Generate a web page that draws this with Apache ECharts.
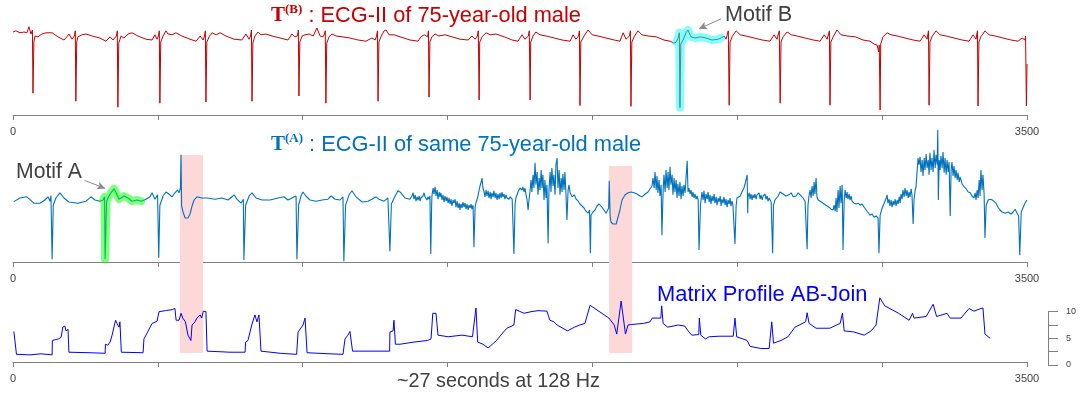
<!DOCTYPE html>
<html>
<head>
<meta charset="utf-8">
<script src="https://cdn.jsdelivr.net/npm/echarts@6/dist/echarts.min.js"></script>
<style>
  html, body { margin: 0; padding: 0; background: #ffffff; }
  #chart { width: 1080px; height: 394px; }
</style>
</head>
<body>
<div id="chart"></div>
<script>
// Sample axis: 3500 samples of ECG lead II (~27 s at 128 Hz)
const sampleCount = 3500;
const xLabelValues = [0, 3500];
const mpLabelValues = [0, 5, 10];

// T(B): ECG-II, [sample, mV]
const ecgB = [
  [0,0.15],[10,0.18],[24,0.13],[38,0.15],[48,0.13],[55,0.28],[62,0.1],[67,0.2],[69,-1.38],[72,-0.1],[76,0.05],[86,0.03],[100,0.1],[114,0.13],[135,0.13],[155,0.03],[176,-0.05],[186,0.03],[193,0.1],[204,-0.03],[212,0.05],[215,0.18],
  [217,-1.58],[220,-0.1],[224,0.03],[238,0.08],[252,0.1],[273,0.05],[300,0],[321,-0.08],[335,0.03],[345,-0.05],[357,0.05],[360,0.18],
  [362,-1.73],[365,-0.13],[373,0.05],[383,0],[397,0.1],[411,0.13],[431,0.05],[459,-0.03],[480,-0.05],[490,0.08],[497,-0.03],[502,0.05],[505,0.18],
  [507,-1.63],[510,-0.1],[518,0.05],[528,0.18],[535,0.1],[549,0.08],[562,0.13],[583,0.05],[611,-0.03],[632,-0.08],[646,0.05],[656,-0.05],[661,0.05],[664,0.18],
  [666,-1.6],[669,-0.1],[677,0.03],[687,0.13],[701,0.08],[715,0.13],[735,0.05],[763,-0.03],[790,-0.05],[804,0.1],[815,-0.03],[820,0.05],[823,0.2],
  [825,-1.58],[828,-0.13],[835,0.05],[846,0.15],[856,0.08],[873,0.1],[894,0.05],[922,0],[949,-0.05],[963,0.1],[973,0.03],[982,0.05],[985,0.2],
  [987,-1.45],[990,-0.1],[998,0.05],[1008,0.08],[1022,0.1],[1036,0.05],[1049,0.25],[1060,0.05],[1070,0.03],[1075,0.1],[1078,0.18],
  [1080,-1.63],[1083,-0.13],[1091,0.03],[1101,0.1],[1115,0.05],[1136,0.03],[1163,0],[1191,-0.05],[1218,-0.08],[1239,0],[1250,-0.05],[1255,0.05],[1258,0.18],
  [1260,-1.58],[1263,-0.1],[1270,0.03],[1281,0.18],[1288,0.2],[1298,0.08],[1315,0.08],[1336,0.03],[1370,-0.05],[1398,-0.08],[1408,0.03],[1419,0.08],[1431,0.03],[1434,0.18],
  [1436,-1.48],[1439,-0.1],[1446,0.03],[1457,0.1],[1470,0.05],[1491,0.08],[1515,0.03],[1543,-0.03],[1571,-0.05],[1584,0.05],[1595,-0.03],[1603,0.05],[1606,0.18],
  [1609,-1.55],[1611,-0.1],[1619,0.03],[1633,0.13],[1647,0.08],[1667,0.1],[1695,0.03],[1723,-0.05],[1743,-0.08],[1757,0.08],[1767,-0.03],[1779,0.05],[1782,0.18],
  [1785,-1.55],[1787,-0.1],[1795,0.05],[1805,0.15],[1819,0.08],[1840,0.05],[1868,0],[1895,-0.05],[1923,-0.08],[1933,0.08],[1943,-0.03],[1952,0.05],[1955,0.18],
  [1957,-1.69],[1960,-0.1],[1971,0.05],[1985,0.2],[1999,0.08],[2019,0.05],[2047,0],[2075,-0.05],[2095,-0.08],[2106,0.13],[2116,-0.03],[2128,0.05],[2131,0.18],
  [2133,-1.71],[2136,-0.1],[2144,0.03],[2157,0.18],[2171,0.08],[2192,0.05],[2220,0.03],[2247,-0.05],[2268,-0.08],[2282,-0.13],
  [2289,-0.1],[2296,0],[2300,0.13],[2302,-1.74],[2305,-0.15],[2313,-0.05],[2323,0.13],[2330,0.2],[2340,0.03],[2354,0],[2372,0.03],[2392,0],[2413,-0.05],[2434,-0.03],[2444,0],
  [2455,0.05],[2461,-0.03],[2469,0.18],
  [2472,-1.68],[2475,-0.1],[2482,0.03],[2496,0.18],[2510,0.08],[2530,0.05],[2558,0],[2586,-0.05],[2613,-0.08],[2627,0.08],[2637,-0.03],[2645,0.18],
  [2648,-1.63],[2651,-0.1],[2658,0.03],[2672,0.15],[2686,0.08],[2706,0.05],[2734,0],[2762,-0.05],[2786,-0.08],[2800,0.08],[2810,-0.03],[2818,0.18],
  [2820,-1.68],[2823,-0.1],[2831,0.03],[2844,0.2],[2858,0.08],[2879,0.05],[2907,0.03],[2934,-0.05],[2958,-0.08],[2972,-0.15],[2983,-0.18],[2988,-0.35],[2990,-0.18],
  [2993,-1.8],[2995,-0.15],[3003,0.03],[3017,0.13],[3031,0.08],[3052,0.05],[3079,0],[3107,-0.05],[3131,-0.08],[3145,0.08],[3155,-0.03],[3160,0.18],
  [3162,-1.68],[3165,-0.1],[3172,0.03],[3186,0.18],[3200,0.08],[3221,0.05],[3248,0],[3276,-0.05],[3300,-0.08],[3314,0.08],[3324,-0.03],[3329,0.18],
  [3331,-1.7],[3334,-0.1],[3341,0.03],[3355,0.18],[3369,0.08],[3390,0.05],[3417,0],[3445,-0.05],[3469,-0.08],[3483,0],[3493,-0.05],[3495,0.05],
  [3498,-1.7],[3500,-0.65]
];

// T(A): ECG-II of the same subject, [sample, mV]
const ecgA = [
  [3,-0.09],[24,0],[48,0.03],[72,-0.13],[93,-0.13],[110,-0.05],[121,0.03],[128,-0.08],[131,0.06],[135,-1.53],[139,-0.18],[148,0],[162,0.13],[176,0],[193,-0.1],[224,-0.13],[252,-0.08],[269,0.03],[283,-0.05],[300,-0.08],
  [311,-0.05],[316,0.03],[318,-1.53],[323,-0.08],[331,0.05],[338,0.13],[349,0.23],[356,0.13],[366,-0.03],[383,0.05],[397,0],[411,-0.08],[428,-0.05],[442,-0.08],
  [459,-0.03],[473,0.03],[480,0.13],[490,-0.03],[499,0.08],[503,-1.5],[507,-0.18],[518,0.05],[528,0.15],[538,0.1],[549,0.03],[559,0.13],[568,0.2],[573,0.13],[578,0.25],[580,1.08],[582,-0.2],[587,-0.35],[594,-0.5],[597,-0.55],[604,-0.5],[611,-0.4],[618,-0.2],[625,-0.05],[635,0.03],[652,0],[670,0],[697,-0.03],[721,0],[742,-0.05],[756,0.03],[763,0.08],[773,-0.03],[787,-0.13],[795,-0.03],[797,-1.55],[803,-0.18],[815,0.05],[825,0.13],[839,0],[860,-0.05],[887,-0.05],[915,0],[935,0.03],[949,-0.05],[963,0],[977,0.05],[980,-1.53],[986,-0.18],[994,0.05],[1001,0.15],[1011,0.05],[1025,-0.05],[1046,-0.08],[1067,-0.05],[1087,-0.03],[1098,0.05],[1112,-0.03],[1129,-0.05],[1139,0.03],[1142,-1.58],[1148,-0.18],[1160,0.08],[1170,0.18],[1184,0.03],[1205,-0.1],[1225,-0.08],[1239,-0.03],[1253,0.03],[1263,-0.03],[1281,-0.08],[1294,0],[1300,0.05],[1301,-1.33],[1306,-0.15],[1319,0.05],[1329,0.18],[1339,0.13],[1353,0],
  [1370,-0.03],[1377,0.05],[1381,0.13],[1384,-0.03],[1388,0.08],[1391,-0.08],[1395,0.03],[1398,-0.05],[1402,0.05],[1405,-0.08],[1408,0],[1412,-0.05],[1415,0.05],[1419,0.13],[1422,0.03],[1426,0.08],[1429,-0.05],[1432,0.03],[1436,-0.03],[1439,0.05],
  [1442,-1.4],[1445,-0.18],[1446,0.05],[1450,0.25],[1453,0.1],[1457,0.28],[1460,0.05],[1464,0.2],[1467,-0.03],[1471,0.15],[1474,0.03],[1477,0.13],[1481,-0.05],[1484,0.08],[1488,-0.1],[1491,0.05],[1495,-0.08],[1498,0.03],[1502,-0.13],[1505,0],[1509,-0.15],[1512,-0.03],[1515,-0.2],[1519,-0.05],[1522,-0.13],[1526,-0.03],[1529,-0.23],[1533,-0.08],[1536,-0.25],[1540,-0.13],[1543,-0.3],[1546,-0.15],[1550,-0.25],[1553,-0.1],[1557,-0.23],[1560,-0.13],[1564,-0.28],[1567,-0.15],[1571,-0.3],[1574,-0.18],[1578,-0.25],[1581,-0.15],[1584,-0.28],[1588,-0.18],
  [1591,-1.23],[1595,-0.23],[1598,-0.13],[1602,-0.18],[1605,0.05],[1609,0.2],[1612,0.3],[1616,0.4],[1619,0.5],[1622,0.25],[1626,0.15],[1629,0.03],[1633,0.2],[1636,0.05],[1640,0.18],[1643,0],[1647,0.15],[1650,-0.03],[1653,0.13],[1657,0.03],[1660,0.18],[1664,0],[1667,0.13],[1671,-0.05],[1674,0.1],[1678,-0.03],[1681,0.13],[1685,0],[1688,0.15],[1691,0.03],[1695,0.1],[1698,-0.03],[1702,0.08],[1705,0],[1709,0.05],[1712,-0.03],[1716,0.03],[1719,0],[1723,-0.03],[1726,0],
  [1729,-1.4],[1733,-0.15],[1736,0],[1740,0.08],[1743,0.15],[1747,0.2],[1750,0.25],[1754,0.3],[1757,0.2],[1760,0.28],[1764,0.15],[1767,0.25],[1771,0.08],[1774,-0.03],[1778,-0.3],[1781,-0.05],[1785,0.2],[1788,0.45],[1791,0.15],[1795,0.58],[1798,0.25],[1802,0.88],[1805,0.33],[1809,0.65],[1812,0.08],[1816,0.5],[1819,0.2],[1823,0.7],[1826,0.25],[1829,0.58],[1833,-0.05],[1836,0.45],[1840,0],[1843,0.33],
  [1847,-1.13],[1850,0.2],[1854,0.65],[1857,0.15],[1860,0.75],[1864,0.3],[1867,0.58],[1871,0.08],[1874,0.83],[1878,1.0],[1881,0.25],[1885,0.7],[1888,0.08],[1892,0.5],[1895,0.15],[1898,0.6],[1902,0.2],[1905,0.65],[1909,0.05],[1912,-0.55],[1916,0.2],[1919,0.33],
  [1923,0.13],[1930,0.03],[1937,0.08],[1944,-0.03],[1951,-0.08],[1957,-0.15],[1964,-0.2],[1971,-0.25],[1978,-0.33],[1985,-0.38],[1990,-0.3],[1993,-1.38],[1995,-0.43],[2002,-0.35],[2009,-0.3],[2016,-0.2],[2023,-0.15],[2026,-0.13],[2033,-0.23],[2040,-0.3],[2047,-0.38],[2052,-0.38],[2056,-0.25],[2058,0.43],[2061,-0.43],[2064,-0.6],[2071,-0.65],[2082,-0.65],[2088,-0.6],[2095,-0.3],[2102,-0.05],[2113,0.08],[2123,0.13],[2133,0.15],[2144,0.13],[2154,0.1],[2164,0.05],[2171,0.03],[2182,0.1],[2192,0.15],[2199,0.23],[2206,0.3],
  [2209,0.5],[2213,0.25],[2216,0.65],[2220,0.2],[2223,0.55],[2226,0.13],[2230,0.45],[2233,0.05],[2237,0.33],[2240,-0.93],[2244,0.2],[2247,0.58],[2251,0.15],[2254,0.7],[2258,0.25],[2261,0.65],[2264,0.2],[2268,0.78],[2271,0.33],[2275,0.58],[2278,0.08],[2282,0.5],[2285,0.15],[2289,0.45],[2292,0],[2295,0.35],[2299,0.05],[2302,0.4],[2306,-0.03],[2309,0.3],[2313,0.05],[2316,0.33],[2320,0.13],[2323,0.5],[2327,0.93],[2330,0.15],[2333,0.25],[2337,0.1],[2340,0.2],[2344,0.03],[2347,0.15],[2351,0],[2354,0.1],[2358,-0.03],[2361,0.05],[2365,-0.05],
  [2368,-1.3],[2373,-0.18],[2378,0.15],[2382,-0.05],[2385,0.18],[2389,-0.13],[2392,0.1],[2396,-0.03],[2399,0.15],[2403,-0.1],[2406,0.08],[2409,-0.15],[2413,0.05],[2416,-0.08],[2420,0.1],[2423,-0.13],[2427,0.03],[2430,-0.18],[2434,0],[2437,-0.1],[2441,0.05],[2444,-0.2],[2447,-0.03],[2451,-0.13],[2454,0.03],[2458,-0.18],[2461,-0.03],[2465,-0.23],[2468,-0.05],[2472,-0.15],[2475,0],[2478,-0.2],[2482,-0.08],[2485,-0.18],[2489,-0.23],
  [2492,-1.15],[2496,-0.18],[2499,0],[2503,0.03],[2510,0.05],[2516,0.15],[2523,0.25],[2527,0.35],[2530,0.4],[2534,0.58],[2536,-0.38],[2537,0.03],[2541,0.13],[2544,-0.03],[2547,0.1],[2551,-0.05],[2554,0.08],[2558,0],[2561,0.1],[2565,-0.03],[2568,0.08],[2572,0.03],[2575,0.13],[2579,-0.03],[2582,0.08],[2586,-0.05],[2589,0.05],[2592,0],[2596,0.1],[2599,-0.03],[2603,0.05],[2606,-0.08],[2610,0],[2613,-0.05],[2617,-0.1],
  [2622,-1.38],[2625,-0.18],[2630,-0.05],[2641,0.05],[2648,0.15],[2658,0.1],[2668,0.05],[2679,0.08],[2686,0.13],[2693,0.03],[2703,0.05],[2710,0.13],[2717,0.08],[2727,0],[2734,-0.08],[2737,-0.13],
  [2741,-1.28],[2744,-0.18],[2748,0.08],[2751,0.2],[2755,0],[2758,0.3],[2762,0.05],[2765,0.4],[2768,0.1],[2772,0.5],[2775,0.03],[2779,-0.05],[2786,-0.08],[2796,-0.13],[2806,-0.18],[2817,-0.23],[2824,-0.28],[2831,-0.3],[2834,-0.18],[2838,-0.33],[2841,0],[2844,-0.35],[2848,0.2],[2851,-0.25],[2855,0.3],[2858,-0.13],[2862,0.33],
  [2865,-1.3],[2869,-0.05],[2872,0.2],[2876,0],[2879,0.15],[2882,-0.03],[2886,0.1],[2889,-0.05],[2893,0.05],[2896,-0.08],[2903,-0.13],[2910,-0.15],[2917,-0.13],[2924,-0.18],[2931,-0.15],[2938,-0.23],[2945,-0.3],[2951,-0.35],[2958,-0.43],[2965,-0.4],[2972,-0.48],[2979,-0.45],[2986,-0.5],
  [2989,-1.38],[2993,-0.43],[3000,-0.25],[3007,-0.13],[3014,0],[3017,0.08],[3020,-0.13],[3024,-0.03],[3027,-0.2],[3031,-0.05],[3034,-0.23],[3038,-0.08],[3041,-0.18],[3045,-0.03],[3048,-0.2],[3052,-0.05],[3055,-0.15],[3059,0.03],[3062,-0.13],[3065,0.1],[3069,-0.03],[3072,0.2],[3076,0.03],[3079,0.25],[3083,0.05],[3086,0.2],[3090,0],[3093,0.15],[3096,0.03],[3100,0.23],[3103,0.08],
  [3107,-0.65],[3110,-0.05],[3114,0.2],[3117,0.28],[3121,0.7],[3124,1.0],[3127,0.83],[3131,1.03],[3134,0.65],[3138,0.95],[3141,0.55],[3145,1.0],[3148,0.7],[3152,1.1],[3155,0.75],[3159,0.95],[3162,0.58],[3165,1.13],[3169,0.7],[3172,1.0],[3176,0.65],[3179,1.2],[3183,0.75],[3186,1.08],[3190,0.83],[3192,1.7],[3194,-0.05],[3197,0.95],[3200,0.7],[3203,1.05],[3207,0.75],[3210,1.15],[3214,0.63],[3217,1.0],[3221,0.58],[3224,0.95],[3228,0.65],[3231,0.9],
  [3235,-0.45],[3238,0.7],[3241,0.9],[3245,0.55],[3248,0.8],[3252,0.5],[3255,0.7],[3259,0.45],[3262,0.63],[3266,0.4],[3269,0.53],[3276,0.35],[3283,0.28],[3290,0.23],[3297,0.15],[3304,0.13],[3310,0.05],[3317,0],[3321,0.13],[3324,-0.05],[3328,0.2],[3331,0],[3335,0.45],[3338,0.05],[3341,0.7],[3345,0.2],[3348,0.58],[3352,0.08],
  [3355,-1.0],[3359,-0.18],[3366,-0.05],[3373,-0.03],[3380,-0.05],[3386,-0.03],[3393,-0.13],[3400,-0.23],[3407,-0.3],[3414,-0.35],[3424,-0.38],[3435,-0.35],[3445,-0.4],[3452,-0.35],[3459,-0.28],[3466,-0.38],[3471,-0.45],
  [3475,-1.43],[3480,-0.35],[3487,-0.23],[3493,-0.13],[3500,-0.05]
];

// Matrix profile of the AB-join (z-normalised distance)
const mpAB = [
  [3,6.3],[12,2.0],[59,1.9],[97,2.1],[135,1.9],[136,4.6],[157,4.9],[166,5.2],[172,7.1],[179,7.3],[183,6.4],[190,6.7],[193,2.4],
  [266,2.3],[318,2.2],[319,3.9],[327,3.7],[335,4.3],[342,5.6],[354,8.4],[359,7.8],[366,7.1],[369,8.1],[374,2.4],
  [449,2.3],[452,4.9],[461,5.8],[480,7.8],[497,8.2],[504,10.0],[526,10.2],[550,10.4],[559,10.6],[563,8.4],[573,8.4],[580,9.7],[586,8.8],[595,8.1],[604,5.6],[610,5.3],[614,4.6],[618,7.5],[628,8.1],[635,8.8],[646,9.4],[651,8.8],[657,10.1],[666,10.0],[670,2.6],
  [749,2.4],[801,2.4],[803,4.3],[811,4.6],[824,7.5],[835,9.4],[842,8.1],[849,9.4],[856,2.6],
  [922,2.2],[979,2.0],[984,6.2],[1001,7.5],[1008,8.8],[1015,2.3],
  [1094,2.1],[1139,2.0],[1146,4.9],[1156,5.6],[1163,6.3],[1169,6.2],[1172,2.6],
  [1232,2.6],[1300,2.6],[1301,6.2],[1312,6.4],[1315,8.4],[1320,3.9],[1336,3.9],[1384,4.3],[1431,4.6],[1443,4.9],[1449,9.7],[1460,9.7],[1467,5.6],[1502,5.3],[1550,5.6],[1586,5.3],[1598,10.7],[1604,4.3],[1622,3.9],[1640,3.2],[1669,4.6],[1693,6.2],[1705,6.9],[1729,7.5],[1735,10.4],[1764,9.7],[1788,10.0],[1812,10.2],
  [1843,10.1],[1853,8.4],[1867,8.1],[1878,7.5],[1914,6.4],[1938,7.1],[1956,7.5],[1974,7.8],[1992,11.2],[2057,8.8],[2075,7.5],[2084,5.8],[2099,12.0],[2105,11.7],[2114,5.8],[2123,7.5],[2135,7.6],[2176,7.8],[2199,8.1],[2206,8.8],[2236,8.8],[2239,11.1],[2244,7.8],[2260,7.1],[2296,7.5],[2319,7.3],[2330,6.4],[2343,5.6],[2367,5.7],[2369,8.8],[2374,5.6],[2390,4.9],[2403,5.3],[2437,5.4],[2486,5.4],[2492,8.8],[2498,5.3],
  [2534,4.6],[2544,3.5],[2581,3.1],[2610,3.1],[2619,8.1],[2625,4.1],[2651,4.6],[2675,5.3],[2699,7.1],[2736,8.1],[2741,9.8],[2748,7.8],[2772,6.9],[2819,6.9],[2855,7.8],[2863,9.7],[2869,6.4],[2902,6.2],[2938,5.6],[2962,6.4],[2979,7.5],[2992,12.6],[3009,11.1],[3057,9.7],[3093,8.4],[3105,9.7],[3110,8.8],[3152,9.1],[3176,11.4],[3188,9.1],[3224,9.7],[3235,8.8],[3272,8.8],[3300,10.6],[3317,10.1],[3341,10.6],[3348,10.7],[3355,5.8],[3373,5.0]
];

// Motif windows (sample ranges) and the two highlighted join windows [start, end, top level in mV]
const motifA = [311, 442];
const motifB = [2289, 2444];
const joinWindows = [[576, 656, 1.075], [2057, 2137, 0.8]];
const arrowA = [[247, 0.44], [318, 0.24]];
const arrowB = [[2444, 0.48], [2368, 0.23]];

const inRange = (range) => (p) => p[0] >= range[0] && p[0] <= range[1];

const SANS = '"Liberation Sans", Arial, Helvetica, sans-serif';
const SERIF = '"Liberation Serif", "Times New Roman", serif';
const RED = '#c80000';
const BLUE = '#0072bd';
const MP_BLUE = '#0000ff';
const AXIS_GRAY = '#808080';
const TEXT_GRAY = '#404040';

const gridLeft = 13, gridRight = 53;
const overlayMin = -3.875, overlayMax = 1.75;

function sampleAxis(gridIndex, extra) {
  return Object.assign({
    type: 'value', gridIndex, min: 0, max: sampleCount, interval: 500,
    axisLine: { show: true, onZero: false, lineStyle: { color: AXIS_GRAY, width: 1 } },
    axisTick: { show: true, length: 5, lineStyle: { color: AXIS_GRAY, width: 1 } },
    axisLabel: {
      show: true, margin: 11, fontSize: 11, color: TEXT_GRAY, fontFamily: SANS,
      showMinLabel: true, showMaxLabel: true, hideOverlap: false,
      formatter: (v) => (xLabelValues.includes(v) ? String(v) : '')
    },
    splitLine: { show: false }
  }, extra || {});
}

function titleText(sup, rest, color) {
  return {
    text: '{t|T}{s|' + sup + '}{m|' + rest + '}',
    textStyle: {
      fontWeight: 'normal',
      rich: {
        t: { fontFamily: SERIF, fontWeight: 'bold', fontSize: 21, color, lineHeight: 26 },
        s: { fontFamily: SERIF, fontWeight: 'bold', fontSize: 13, color, verticalAlign: 'top', lineHeight: 26 },
        m: { fontFamily: SANS, fontWeight: 'normal', fontSize: 21.8, color, lineHeight: 26 }
      }
    }
  };
}

const chart = echarts.init(document.getElementById('chart'), null, { renderer: 'canvas' });

chart.setOption({
  animation: false,
  backgroundColor: '#ffffff',
  title: [
    Object.assign({ left: 271, top: 3, padding: 0 }, titleText('(B)', ' : ECG-II of 75-year-old male', RED)),
    Object.assign({ left: 271, top: 132, padding: 0 }, titleText('(A)', ' : ECG-II of same 75-year-old male', BLUE)),
    { text: 'Matrix Profile AB-Join', left: 657, top: 284, padding: 0,
      textStyle: { fontFamily: SANS, fontSize: 21.9, fontWeight: 'normal', color: MP_BLUE } },
    { text: 'Motif A', left: 16, top: 162, padding: 0,
      textStyle: { fontFamily: SANS, fontSize: 21.2, fontWeight: 'normal', color: TEXT_GRAY } },
    { text: 'Motif B', left: 725, top: 4, padding: 0,
      textStyle: { fontFamily: SANS, fontSize: 21.6, fontWeight: 'normal', color: TEXT_GRAY } },
    { text: '~27 seconds at 128 Hz', left: 397, top: 372, padding: 0,
      textStyle: { fontFamily: SANS, fontSize: 19.8, fontWeight: 'normal', color: TEXT_GRAY } }
  ],
  grid: [
    { left: gridLeft, right: gridRight, top: 8, height: 107 },
    { left: gridLeft, right: gridRight, top: 128, height: 134 },
    { left: gridLeft, right: gridRight, top: 311.7, height: 53.3 },
    { left: gridLeft, right: gridRight, top: 128, height: 225 }
  ],
  xAxis: [
    sampleAxis(0),
    sampleAxis(1),
    sampleAxis(2, { offset: -3 }),
    { type: 'value', gridIndex: 3, min: 0, max: sampleCount, show: false }
  ],
  yAxis: [
    { type: 'value', gridIndex: 0, min: -1.925, max: 0.75, show: false },
    { type: 'value', gridIndex: 1, min: -1.6, max: 1.75, show: false },
    {
      type: 'value', gridIndex: 2, min: 0, max: 10, interval: 2.5, position: 'right', offset: 21,
      axisLine: { show: true, onZero: false, lineStyle: { color: AXIS_GRAY, width: 1 } },
      axisTick: { show: true, length: 10, lineStyle: { color: AXIS_GRAY, width: 1 } },
      axisLabel: {
        show: true, margin: 18, fontSize: 9, color: TEXT_GRAY, fontFamily: SANS,
        formatter: (v) => (mpLabelValues.includes(v) ? String(v) : '')
      },
      splitLine: { show: false }
    },
    { type: 'value', gridIndex: 3, min: overlayMin, max: overlayMax, show: false }
  ],
  series: [
    {
      name: 'join windows', type: 'line', xAxisIndex: 3, yAxisIndex: 3, data: [], z: 1, silent: true,
      markArea: {
        silent: true,
        itemStyle: { color: '#fdd8d8' },
        data: joinWindows.map(([a, b, top]) => [{ xAxis: a, yAxis: top }, { xAxis: b, yAxis: overlayMin }])
      }
    },
    {
      name: 'T(B)', type: 'line', xAxisIndex: 0, yAxisIndex: 0, data: ecgB, z: 3,
      showSymbol: false, symbol: 'none', lineStyle: { color: RED, width: 1 }, silent: true
    },
    {
      name: 'Motif B', type: 'line', xAxisIndex: 0, yAxisIndex: 0, data: ecgB.filter(inRange(motifB)), z: 4,
      showSymbol: false, symbol: 'none', silent: true,
      lineStyle: { color: 'rgba(0,255,255,0.5)', width: 8, cap: 'round', join: 'round' },
      markLine: {
        silent: true, symbol: ['none', 'arrow'], symbolSize: [6, 8],
        lineStyle: { color: '#8a8a8a', width: 1, type: 'solid' }, label: { show: false },
        data: [[{ coord: arrowB[0] }, { coord: arrowB[1] }]]
      }
    },
    {
      name: 'T(A)', type: 'line', xAxisIndex: 1, yAxisIndex: 1, data: ecgA, z: 3,
      showSymbol: false, symbol: 'none', lineStyle: { color: BLUE, width: 1.1 }, silent: true
    },
    {
      name: 'Motif A', type: 'line', xAxisIndex: 1, yAxisIndex: 1, data: ecgA.filter(inRange(motifA)), z: 4,
      showSymbol: false, symbol: 'none', silent: true,
      lineStyle: { color: 'rgba(0,255,0,0.5)', width: 8, cap: 'round', join: 'round' },
      markLine: {
        silent: true, symbol: ['none', 'arrow'], symbolSize: [6, 8],
        lineStyle: { color: '#8a8a8a', width: 1, type: 'solid' }, label: { show: false },
        data: [[{ coord: arrowA[0] }, { coord: arrowA[1] }]]
      }
    },
    {
      name: 'Matrix Profile AB-Join', type: 'line', xAxisIndex: 2, yAxisIndex: 2, data: mpAB, z: 3, clip: false,
      showSymbol: false, symbol: 'none', lineStyle: { color: MP_BLUE, width: 1 }, silent: true
    }
  ]
});
</script>
</body>
</html>
